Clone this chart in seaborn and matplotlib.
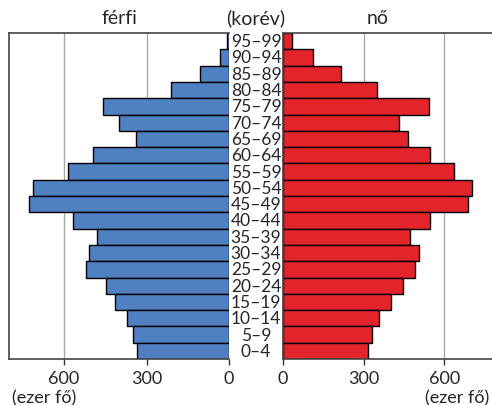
import matplotlib
import matplotlib.pyplot as plt
import matplotlib.transforms as mtransforms
import pandas as pd
import seaborn as sns

matplotlib.use("Agg")

# Korcsoportok felülről lefelé
ages = ["95–99", "90–94", "85–89", "80–84", "75–79", "70–74", "65–69",
        "60–64", "55–59", "50–54", "45–49", "40–44", "35–39", "30–34",
        "25–29", "20–24", "15–19", "10–14", "5–9", "0–4"]
male = [6, 33, 106, 211, 459, 400, 340, 493, 585, 714,
        728, 566, 480, 509, 519, 449, 413, 370, 350, 333]
female = [33, 113, 217, 350, 544, 432, 465, 547, 636, 705,
          689, 548, 471, 506, 493, 446, 403, 358, 330, 315]
ticks = [0, 300, 600]

df = pd.DataFrame({"age": ages, "male": male, "female": female})

sns.set_style("white")
plt.rcParams["font.family"] = ["Lato", "DejaVu Sans"]

W, H = 492, 406
fig = plt.figure(figsize=(W / 100, H / 100), dpi=100)
ax_m = fig.add_axes([9 / W, 46 / H, 220 / W, 326 / H])
ax_f = fig.add_axes([283 / W, 46 / H, 215 / W, 326 / H])

sns.barplot(data=df, x="male", y="age", orient="h", color="#4F80C1",
            edgecolor="black", linewidth=1, width=1.0, saturation=1, ax=ax_m)
sns.barplot(data=df, x="female", y="age", orient="h", color="#E3242B",
            edgecolor="black", linewidth=1, width=1.0, saturation=1, ax=ax_f)

for ax in (ax_m, ax_f):
    ax.set_ylim(len(ages) - 0.5, -0.5)
    ax.set_xticks(ticks)
    ax.set_xticklabels([str(t) for t in ticks])
    ax.set_yticks([])
    ax.set_xlabel("")
    ax.set_ylabel("")
    ax.tick_params(axis="x", labelsize=13, length=4, width=1,
                   color="#333333", pad=4, bottom=True)
    for t in (300, 600):
        ax.axvline(t, color="#aaaaaa", lw=1, zorder=0)
    for s in ax.spines.values():
        s.set_color("#444444")
        s.set_linewidth(1.2)
    ax.set_axisbelow(True)

ax_m.set_xlim(800, 0)
ax_m.spines["right"].set_visible(False)
ax_f.set_xlim(0, 800)
ax_f.spines["right"].set_visible(False)

# korcsoport feliratok középen
tr = mtransforms.blended_transform_factory(fig.transFigure, ax_m.transData)
for i, a in enumerate(ages):
    fig.text(256 / W, i, a, transform=tr, ha="center", va="center",
             fontsize=12.5)

fig.text(119 / W, 1 - 18 / H, "férfi", ha="center", va="center", fontsize=14)
fig.text(256 / W, 1 - 18 / H, "(korév)", ha="center", va="center", fontsize=14)
fig.text(378 / W, 1 - 18 / H, "nő", ha="center", va="center", fontsize=14)
fig.text(44 / W, 1 - 398 / H, "(ezer fő)", ha="center", va="center", fontsize=13)
fig.text(457 / W, 1 - 398 / H, "(ezer fő)", ha="center", va="center", fontsize=13)

fig.savefig("out.png", dpi=100, facecolor="white")
